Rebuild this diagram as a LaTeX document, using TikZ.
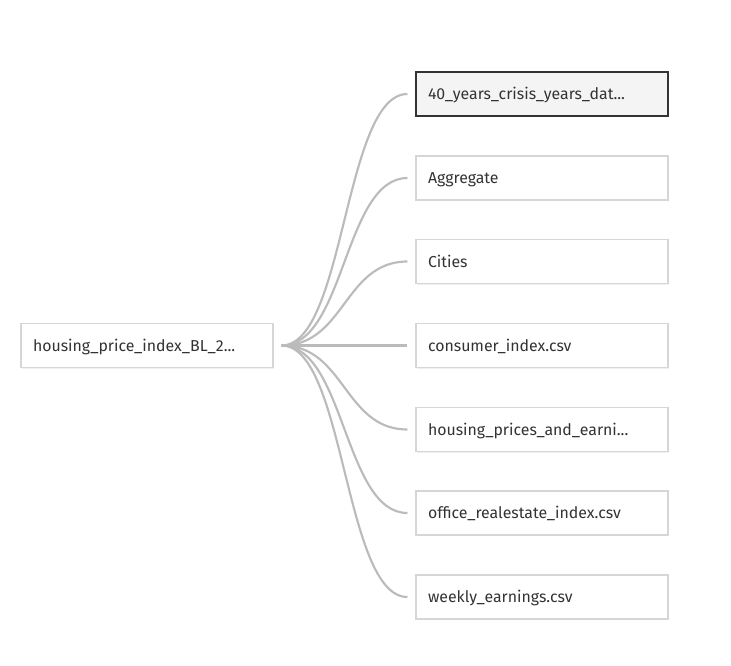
\documentclass[tikz,border=0pt]{standalone}
\usepackage{fontspec}
\setmainfont{Fira Sans}
\usetikzlibrary{shadows}
\definecolor{linkgray}{HTML}{BBBBBB}
\definecolor{boxline}{HTML}{D6D6D6}
\definecolor{txt}{HTML}{333333}
\definecolor{selfill}{HTML}{F4F4F4}

\tikzset{
	item/.style={draw=boxline, fill=white, line width=0.8pt, minimum width=189pt, minimum height=33pt,
		text width=171pt, align=left, inner xsep=9pt, text=txt, font=\fontsize{11.9}{13}\selectfont,
		text height=10pt, text depth=1.5pt,
		drop shadow={opacity=0.12, shadow xshift=0.6pt, shadow yshift=-0.8pt}},
	selected/.style={draw=txt, fill=selfill},
	link/.style={draw=linkgray, line width=1.6pt}
}

\begin{document}
\begin{tikzpicture}[x=0.75pt, y=-0.75pt]
		\useasboundingbox (0,0) rectangle (731,666);
		\node[item] (root) at (147,345.5) {housing\_price\_index\_BL\_2...};
		\coordinate (out) at ([xshift=6pt]root.east);
		\node[item, selected] (c1) at (542,94) {40\_years\_crisis\_years\_dat...};
		\node[item] (c2) at (542,178) {Aggregate};
		\node[item] (c3) at (542,261.5) {Cities};
		\node[item] (c4) at (542,345.5) {consumer\_index.csv};
		\node[item] (c5) at (542,429.5) {housing\_prices\_and\_earni...};
		\node[item] (c6) at (542,513) {office\_realestate\_index.csv};
		\node[item] (c7) at (542,597) {weekly\_earnings.csv};
		\foreach \i in {1,...,7}{
			\coordinate (in\i) at ([xshift=-6pt]c\i.west);
			\draw[link] (out) .. controls ([xshift=47.6pt]out) and ([xshift=-47.6pt]in\i) .. (in\i);
		}
\end{tikzpicture}
\end{document}
